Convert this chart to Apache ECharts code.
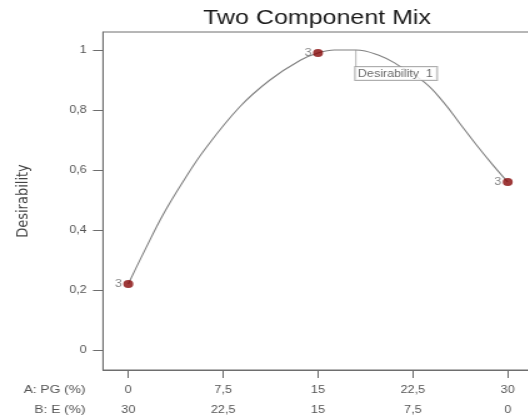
<!DOCTYPE html>
<html>
<head>
<meta charset="utf-8">
<title>Two Component Mix</title>
<script src="https://cdn.jsdelivr.net/npm/echarts@6/dist/echarts.min.js"></script>
<style>
  html, body { margin: 0; padding: 0; background: #fff; overflow: hidden; }
  /* the source picture is stretched sideways, so draw narrow and scale */
  #chart { width: 422.4px; height: 417px; transform: scaleX(1.25); transform-origin: 0 0; }
</style>
</head>
<body>
<div id="chart"></div>
<script>
// Data
const xTickValues = [0, 7.5, 15, 22.5, 30];
const xLabelsA = ['0', '7,5', '15', '22,5', '30'];
const xLabelsB = ['30', '22,5', '15', '7,5', '0'];
const yTickValues = [0, 0.2, 0.4, 0.6, 0.8, 1];
const yLabels = ['0', '0,2', '0,4', '0,6', '0,8', '1'];

// desirability curve, A: PG (%) vs desirability
const curveA = [0, 1.3, 2.8, 4.4, 6, 8.8, 11.2, 13.6, 15, 16.3, 18, 19.9, 21.2, 23.45, 24.9, 26.2, 27.5, 28.8, 30];
const curveD = [0.22, 0.332, 0.455, 0.566, 0.666, 0.81, 0.90, 0.966, 0.99, 1, 1, 0.981, 0.953, 0.891, 0.827, 0.756, 0.685, 0.618, 0.56];

// design points with replicate counts
const pointA = [0, 15, 30];
const pointD = [0.22, 0.99, 0.56];
const pointReps = ['3', '3', '3'];

// optimum flag
const peakA = [18];
const peakD = [1];
const peakText = 'Desirability  1';

const FONT = '"Liberation Sans", Arial, sans-serif';
const GREY = '#555';
const AXIS = '#6e6e6e';

const chart = echarts.init(document.getElementById('chart'));

chart.setOption({
  backgroundColor: '#fff',
  animation: false,
  textStyle: { fontFamily: FONT },
  title: {
    text: 'Two Component Mix',
    left: 253.6,
    top: 8,
    padding: 0,
    textAlign: 'center',
    textStyle: { fontFamily: FONT, fontSize: 20, fontWeight: 'normal', color: '#1a1a1a' },
  },
  grid: {
    left: 82.4, top: 32, width: 344, height: 338,
    outerBoundsMode: 'none',
    show: true, borderColor: AXIS, borderWidth: 1, backgroundColor: 'transparent',
  },
  xAxis: {
    type: 'value',
    min: -2, max: 32,
    name: 'A: PG (%)\nB: E (%)',
    nameLocation: 'start',
    nameGap: 14,
    nameTextStyle: {
      fontFamily: FONT, fontSize: 11, color: GREY, align: 'right', verticalAlign: 'top',
      lineHeight: 20, padding: [10, 0, 0, 0],
    },
    axisLine: { onZero: false, lineStyle: { color: AXIS, width: 1 } },
    axisTick: { show: true, length: 8, customValues: xTickValues, lineStyle: { color: AXIS } },
    splitLine: { show: false },
    axisLabel: {
      customValues: xTickValues,
      margin: 10.5,
      formatter: (v) => {
        const i = xTickValues.indexOf(v);
        return '{a|' + xLabelsA[i] + '}\n{b|' + xLabelsB[i] + '}';
      },
      rich: {
        a: { fontFamily: FONT, fontSize: 10, color: GREY, lineHeight: 20 },
        b: { fontFamily: FONT, fontSize: 10, color: GREY, lineHeight: 20 },
      },
    },
  },
  yAxis: {
    type: 'value',
    min: -0.0667, max: 1.06,
    name: 'Desirability',
    nameLocation: 'middle',
    nameGap: 57,
    nameTextStyle: { fontFamily: '"DejaVu Sans", sans-serif', fontSize: 13, color: '#444' },
    axisLine: { show: true, onZero: false, lineStyle: { color: AXIS, width: 1 } },
    axisTick: { show: true, length: 8, customValues: yTickValues, lineStyle: { color: AXIS } },
    splitLine: { show: false },
    axisLabel: {
      customValues: yTickValues,
      margin: 13,
      fontFamily: FONT, fontSize: 10, color: GREY,
      formatter: (v) => yLabels[yTickValues.findIndex((t) => Math.abs(t - v) < 1e-6)],
    },
  },
  series: [
    {
      type: 'line',
      data: curveA.map((a, i) => [a, curveD[i]]),
      smooth: 0.4,
      showSymbol: false,
      lineStyle: { color: '#808080', width: 1.1 },
      z: 2,
    },
    {
      type: 'scatter',
      data: pointA.map((a, i) => [a, pointD[i]]),
      symbolSize: 8,
      itemStyle: { color: '#860808' },
      label: {
        show: true,
        position: 'left',
        distance: 1,
        formatter: (p) => pointReps[p.dataIndex],
        fontFamily: FONT, fontSize: 10, color: '#666',
      },
      z: 4,
    },
    {
      type: 'scatter',
      data: peakA.map((a, i) => [a, peakD[i]]),
      symbol: 'rect',
      symbolSize: [0.8, 17],
      symbolOffset: [0, 8.5],
      itemStyle: { color: '#8a8a8a' },
      label: {
        show: true,
        position: [0, 17],
        align: 'left',
        verticalAlign: 'top',
        formatter: peakText,
        fontFamily: FONT, fontSize: 10, color: '#444',
        backgroundColor: '#fff',
        borderColor: '#9a9a9a', borderWidth: 1,
        padding: [2, 3, 1, 2],
      },
      z: 5,
    },
  ],
});
</script>
</body>
</html>
